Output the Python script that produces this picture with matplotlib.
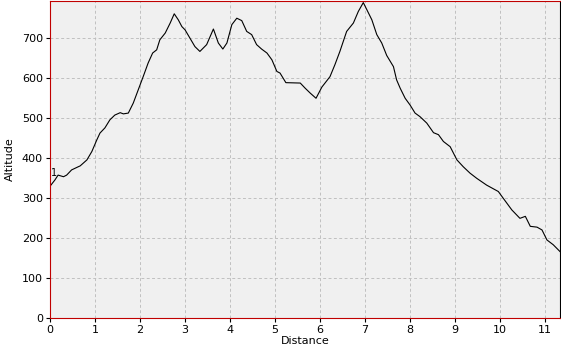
import matplotlib
matplotlib.use("Agg")
import matplotlib.pyplot as plt

# distance (km) and altitude (m)
DISTANCE = [
    0.02, 0.11, 0.18, 0.30, 0.37, 0.48, 0.63, 0.67, 0.82, 0.93,
    1.04, 1.11, 1.22, 1.33, 1.44, 1.56, 1.63, 1.74, 1.85, 1.96,
    2.07, 2.18, 2.28, 2.37, 2.44, 2.56, 2.67, 2.76, 2.85, 2.93,
    3.00, 3.11, 3.22, 3.33, 3.48, 3.63, 3.74, 3.84, 3.93, 4.04,
    4.15, 4.26, 4.37, 4.48, 4.59, 4.70, 4.82, 4.93, 5.04, 5.11,
    5.24, 5.56, 5.67, 5.78, 5.91, 6.04, 6.22, 6.33, 6.44, 6.59,
    6.74, 6.85, 6.96, 7.04, 7.15, 7.26, 7.37, 7.48, 7.63, 7.70,
    7.78, 7.89, 8.00, 8.11, 8.22, 8.37, 8.52, 8.63, 8.74, 8.89,
    9.04, 9.18, 9.33, 9.48, 9.70, 9.96, 10.07, 10.26, 10.44, 10.56,
    10.67, 10.82, 10.93, 11.04, 11.18, 11.33,
]
ALTITUDE = [
    332, 345, 357, 353, 357, 370, 378, 380, 395, 416,
    445, 462, 475, 495, 507, 513, 510, 512, 537, 570,
    603, 637, 662, 670, 695, 712, 737, 760, 745, 728,
    720, 699, 678, 666, 683, 722, 687, 672, 687, 733,
    749, 743, 716, 708, 683, 672, 662, 645, 616, 612,
    588, 587, 574, 562, 549, 577, 603, 633, 666, 716,
    737, 766, 788, 770, 745, 708, 687, 656, 628, 595,
    574, 549, 532, 512, 503, 487, 463, 458, 441, 428,
    395, 378, 362, 349, 332, 316, 299, 270, 249, 254,
    229, 227, 220, 195, 183, 166,
]
X_TICKS = list(range(0, 12))
Y_TICKS = list(range(0, 800, 100))

fig = plt.figure(figsize=(5.61, 3.50), dpi=100)
fig.patch.set_facecolor("white")
ax = fig.add_axes([50 / 561, 32 / 350, 510 / 561, 317 / 350])
ax.set_facecolor("#f0f0f0")

ax.plot(DISTANCE, ALTITUDE, color="black", linewidth=0.8)
ax.text(DISTANCE[0], 362, "1", fontsize=7, ha="left", va="center")

ax.set_xlim(0, 11.33)
ax.set_ylim(0, 792)
ax.set_xticks(X_TICKS)
ax.set_yticks(Y_TICKS)
ax.tick_params(labelsize=8, length=3, direction="out", pad=2)
ax.grid(True, color="#c0c0c0", linestyle=(0, (3, 2.5)), linewidth=0.7)

for side in ("left", "bottom", "top"):
    ax.spines[side].set_color("#c00000")
ax.spines["right"].set_color("black")

ax.set_xlabel("Distance", fontsize=8, labelpad=1)
ax.set_ylabel("Altitude", fontsize=8, labelpad=5)

fig.savefig("out.png", dpi=100)
